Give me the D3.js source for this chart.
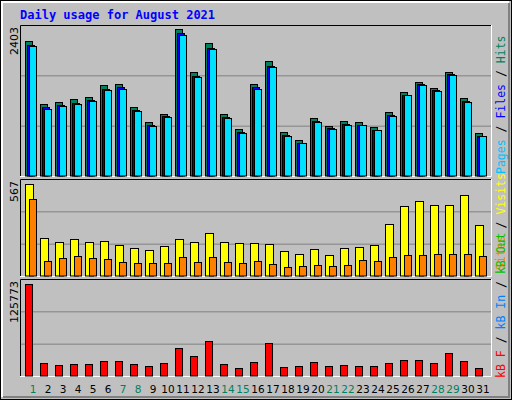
<!DOCTYPE html>
<html><head><meta charset="utf-8">
<script src="https://cdn.jsdelivr.net/npm/d3@7"></script>
<style>body{margin:0;background:#fff}svg{display:block}</style>
</head><body><svg id="c" width="512" height="400"></svg>
<script>
var days = d3.range(1, 32);
var weekend = [1, 7, 8, 14, 15, 21, 22, 28, 29];
var hits = [2203,1173,1206,1255,1287,1484,1500,1124,878,1010,2398,1700,2170,1010,765,1500,1876,714,584,944,812,894,878,796,1042,1369,1533,1435,1697,1271,698];
var files = [2140,1120,1160,1200,1240,1430,1450,1080,830,980,2330,1640,2100,960,720,1450,1800,670,545,900,780,850,840,760,990,1330,1500,1400,1660,1220,660];
var pages = [2120,1100,1150,1180,1230,1410,1420,1060,820,970,2310,1620,2080,950,710,1420,1780,650,540,890,770,840,830,750,980,1320,1490,1390,1650,1210,650];
var visits = [567,234,209,228,209,216,191,172,160,185,228,209,265,209,203,203,197,154,136,166,129,172,179,191,320,431,462,437,437,499,314];
var sites = [474,92,111,123,111,105,86,80,80,80,117,86,117,86,80,92,74,55,62,68,62,68,99,92,117,129,129,136,136,136,123];
var kbytes = [125773,18296,15552,16924,16924,21040,21040,16924,14179,18296,38879,27901,48484,16924,11435,19668,45740,12807,14179,19668,14179,15552,14179,14179,18296,22413,22413,18296,32018,21040,11435];

var svg = d3.select("#c");
var mono = "'DejaVu Sans Mono', monospace";

// outer frame
svg.append("rect").attr("x",0.5).attr("y",0.5).attr("width",511).attr("height",399).attr("fill","#c0c0c0").attr("stroke","#000");
svg.append("path").attr("d","M2,397V2H509").attr("fill","none").attr("stroke","#fff").attr("stroke-width",2);
svg.append("path").attr("d","M3,397H509V3").attr("fill","none").attr("stroke","#808080").attr("stroke-width",2);

svg.append("text").attr("x",20).attr("y",19).attr("font-family",mono).attr("font-weight","bold")
  .attr("font-size",12).attr("fill","#0000ff").text("Daily usage for August 2021");

var x = d3.scaleLinear().domain([1, 31]).range([25, 475]);

function panel(y0, y1, top, max, label) {
  var g = svg.append("g");
  g.append("rect").attr("x",20).attr("y",y0).attr("width",471).attr("height",y1-y0).attr("fill","#c0c0c0");
  g.append("path").attr("d","M20.5,"+y1+"V"+(y0+0.5)+"H491").attr("fill","none").attr("stroke","#000");
  g.append("path").attr("d","M20,"+(y1+0.5)+"H491.5V"+y0).attr("fill","none").attr("stroke","#fff");
  var y = d3.scaleLinear().domain([0, max]).range([y1, top]);
  var step = (y1 - y0) / 3;
  [1, 2].forEach(function(k){
    g.append("line").attr("x1",21).attr("x2",491).attr("y1",y1-step*k+0.5).attr("y2",y1-step*k+0.5).attr("stroke","#808080");
  });
  g.append("text").attr("transform","translate(18,"+(y0+2)+") rotate(-90)").attr("text-anchor","end")
    .attr("font-family","'DejaVu Sans', sans-serif").attr("font-size",11).attr("fill","#000").text(label);
  return y;
}

function bars(y, data, dx, w, color) {
  svg.append("g").selectAll("rect").data(data).enter().append("rect")
    .attr("x", function(d, i){ return x(days[i]) + dx + 0.5; })
    .attr("y", function(d){ return Math.round(y(d)) + 0.5; })
    .attr("width", w)
    .attr("height", function(d){ return y.range()[0] - Math.round(y(d)) - 0.5; })
    .attr("fill", color).attr("stroke","#000");
}

var y1 = panel(25, 176, 29, 2403, "2403");
bars(y1, hits, 0, 7, "#00805c");
bars(y1, files, 2, 7, "#0000ff");
bars(y1, pages, 4, 7, "#00e0ff");

var y2 = panel(179, 276, 184, 567, "567");
bars(y2, visits, 0, 8, "#ffff00");
bars(y2, sites, 4, 7, "#ff8000");

var y3 = panel(279, 376, 284, 125773, "125773");
bars(y3, kbytes, 0, 7, "#ff0000");

// day labels
svg.append("g").selectAll("text").data(days).enter().append("text")
  .attr("x", function(d){ return x(d) + 8; }).attr("y", 393).attr("text-anchor","middle")
  .attr("font-family","'DejaVu Sans', sans-serif").attr("font-size",10.5)
  .attr("fill", function(d){ return weekend.indexOf(d) >= 0 ? "#00805c" : "#000"; })
  .text(function(d){ return d; });

// right-side legends (rotated)
function legend(yStart, parts) {
  var t = svg.append("text").attr("transform","translate(505,"+yStart+") rotate(-90)")
    .attr("font-family",mono).attr("font-size",11.5);
  parts.forEach(function(p){ t.append("tspan").attr("fill",p[1]).text(p[0]); });
}
legend(174, [["Pages","#00c0ff"],[" / ","#000"],["Files","#0000ff"],[" / ","#000"],["Hits","#00805c"]]);
legend(270, [["Sites","#ff8000"],[" / ","#000"],["Visits","#ffff00"]]);
legend(378, [["kB F","#ff0000"],[" / ","#000"],["kB In","#0080ff"],[" / ","#000"],["kB Out","#00c000"]]);
</script></body></html>
